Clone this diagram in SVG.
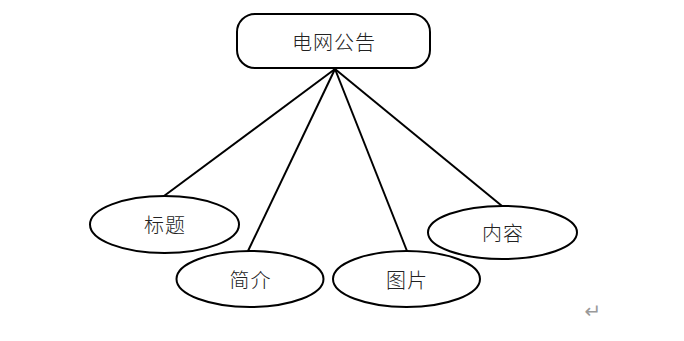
<svg xmlns="http://www.w3.org/2000/svg" width="684" height="341" viewBox="0 0 684 341">
<style>
.shape{fill:#fff;stroke:#000;stroke-width:2}
.lbl{font-family:"Noto Sans CJK SC","Noto Sans CJK JP",sans-serif;font-size:20px;font-weight:300;fill:#222;text-anchor:middle;dominant-baseline:central;letter-spacing:1px}
.conn{stroke:#000;stroke-width:2;fill:none}
</style>
<rect width="684" height="341" fill="#fff"/>
<g id="connectors">
<line class="conn" x1="335" y1="69" x2="164" y2="196"/>
<line class="conn" x1="335" y1="69" x2="248" y2="251"/>
<line class="conn" x1="335" y1="69" x2="407" y2="251"/>
<line class="conn" x1="335" y1="69" x2="502" y2="206"/>
</g>
<g id="node-main">
<rect class="shape" x="237" y="14" width="193" height="54" rx="18" ry="18"/>
<text class="lbl" x="334" y="41">电网公告</text>
</g>
<g id="node-title">
<ellipse class="shape" cx="164.5" cy="224.5" rx="74.5" ry="28.5"/>
<text class="lbl" x="165" y="224.5">标题</text>
</g>
<g id="node-intro">
<ellipse class="shape" cx="250" cy="279" rx="73.5" ry="28"/>
<text class="lbl" x="250.5" y="279">简介</text>
</g>
<g id="node-image">
<ellipse class="shape" cx="406.5" cy="279" rx="73.5" ry="28"/>
<text class="lbl" x="407" y="279">图片</text>
</g>
<g id="node-content">
<ellipse class="shape" cx="502.5" cy="232.5" rx="74.5" ry="26.5"/>
<text class="lbl" x="503" y="232.5">内容</text>
</g>
<text x="593" y="318" font-family="DejaVu Sans, sans-serif" font-size="20" fill="#999" text-anchor="middle">↵</text>
</svg>
